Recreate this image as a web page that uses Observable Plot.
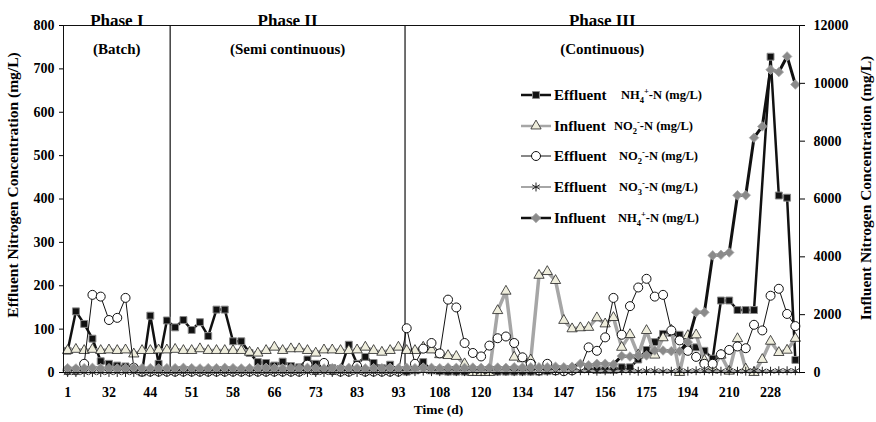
<!DOCTYPE html>
<html><head><meta charset="utf-8">
<script src="https://cdn.jsdelivr.net/npm/d3@7"></script>
<script src="https://cdn.jsdelivr.net/npm/@observablehq/plot@0.6"></script>
<style>
body{margin:0;background:#fff;}
#wrap{position:relative;width:876px;height:422px;font-family:"Liberation Serif","Times New Roman",serif;font-weight:bold;color:#000;}
.sw{position:absolute;}
.t1{position:absolute;font-size:15px;line-height:20px;white-space:nowrap;}
.t2{position:absolute;font-size:12.5px;line-height:20px;white-space:nowrap;}
.t2 sub,.t2 sup{font-size:8.5px;line-height:0;}
</style></head><body><div id="wrap"></div>
<script>
// Tick labels (sampling day) shown every 5th sample
const dayLabels = ["1","32","44","51","58","66","73","83","93","108","120","134","147","156","175","194","210","228"];
// Phase boundaries (in sample index units)
const phaseBounds = [12.4, 40.8];
const phaseNames = ["Phase I","Phase II","Phase III"];
const phaseSubs = ["(Batch)","(Semi continuous)","(Continuous)"];

// Effluent NH4+-N (mg/L) – left axis
const effNH4 = [50,141,112,78,26,20,16,14,10,0,
 131,20,120,104,121,98,116,84,145,145,
 72,72,45,24,22,16,25,15,12,30,
 20,8,10,8,64,20,36,22,10,18,
 5,2,5,24,5,3,2,2,2,1,
 1,2,2,2,2,2,2,2,3,3,
 4,5,8,8,6,6,6,12,12,30,
 52,70,89,91,87,58,58,50,32,166,
 166,144,144,144,null,728,408,403,29];
// Influent NO2--N (mg/L) – right axis
const infNO2 = [760,800,760,800,760,780,760,780,640,760,
 760,780,780,800,760,760,820,760,760,760,
 760,760,700,670,760,875,760,820,820,760,
 670,780,780,760,760,780,875,760,700,760,
 875,760,760,875,780,615,585,555,300,0,
 0,0,2140,2810,530,475,435,3360,3490,3180,
 1800,1510,1545,1560,1890,1680,1900,870,1310,600,
 1450,600,1200,1460,0,1275,1300,420,180,600,
 45,1170,120,0,450,1080,690,770,1180];
// Effluent NO2--N (mg/L) – left axis
const effNO2 = [5,5,20,179,175,121,126,172,11,2,
 2,2,2,2,2,2,2,2,2,2,
 2,2,2,2,2,2,2,2,2,18,
 5,22,5,2,2,15,2,2,2,2,
 2,102,20,55,68,44,168,150,68,45,
 37,62,79,83,68,35,20,5,20,5,
 3,5,10,58,50,81,172,87,153,196,
 216,175,179,97,74,50,36,20,20,42,
 52,60,56,110,97,177,193,135,107];
// Effluent NO3--N (mg/L) – left axis
const effNO3 = [0,0,0,0,0,0,0,0,0,0,
 0,0,0,0,0,0,0,0,0,0,
 0,0,0,0,0,0,0,0,0,0,
 0,0,0,0,0,0,0,0,0,0,
 0,2,2,3,2,2,3,2,2,3,
 2,2,3,3,2,2,3,2,3,3,
 3,3,4,4,3,4,3,4,4,3,
 4,4,3,3,4,3,4,4,3,3,
 4,3,3,4,3,3,4,4,4];
// Influent NH4+-N (mg/L) – right axis
const infNH4 = [150,140,150,160,150,150,140,150,160,150,
 150,140,150,150,160,150,140,150,150,160,
 150,140,150,150,160,150,140,150,150,160,
 150,140,150,150,160,150,140,150,150,160,
 150,160,150,170,160,150,170,160,160,170,
 160,170,170,160,180,170,180,180,180,200,
 180,200,300,250,300,300,280,570,553,588,
 588,761,761,738,738,1050,2080,2080,4050,4070,
 4150,6130,6130,8120,8510,10470,10390,10930,9960];

const leftTicks = [0,100,200,300,400,500,600,700,800];
const rightTicks = [0,2000,4000,6000,8000,10000,12000];
const RATIO = 15; // 12000 / 800

const N = effNH4.length;
const idx = d3.range(N);
const series = (arr, k = 1) => idx.filter(i => arr[i] != null).map(i => ({i, v: arr[i] * k}));
const sEffNH4 = series(effNH4);
const sInfNO2 = series(infNO2, 1 / RATIO);
const sEffNO2 = series(effNO2);
const sEffNO3 = series(effNO3);
const sInfNH4 = series(infNH4, 1 / RATIO);

const edges = [-0.5, ...phaseBounds, N - 0.5];
const phases = phaseNames.map((name, k) => ({name, sub: phaseSubs[k], cx: (edges[k] + edges[k + 1]) / 2}));

const sty = {
  tri: {symbol: "triangle", r: 3.8, fill: "#efeedd", stroke: "#222", strokeWidth: 0.8},
  sq: {symbol: "square", r: 3.9, fill: "#111", stroke: "#8a8a8a", strokeWidth: 1},
  cir: {symbol: "circle", r: 4.5, fill: "#fff", stroke: "#111", strokeWidth: 1},
  ast: {symbol: "asterisk", r: 4.2, fill: "none", stroke: "#222", strokeWidth: 1},
  dia: {symbol: "diamond2", r: 4.3, fill: "#8a8a8a", stroke: "#a8a8a8", strokeWidth: 0.8}
};

const chart = Plot.plot({
  width: 876, height: 422,
  marginLeft: 63, marginRight: 77, marginTop: 25, marginBottom: 50,
  style: {fontFamily: "'Liberation Serif', 'Times New Roman', serif", fontWeight: "bold", fontSize: "14px", color: "#000", background: "#fff"},
  x: {domain: [-0.5, N - 0.5], axis: null},
  y: {domain: [0, 800], axis: null},
  marks: [
    Plot.ruleX(phaseBounds, {stroke: "#333", strokeWidth: 1.4}),
    // Effluent NH4
    Plot.line(sEffNH4, {x: "i", y: "v", stroke: "#111", strokeWidth: 2.5}),
    Plot.dot(sEffNH4, {x: "i", y: "v", ...sty.sq}),
    // Influent NO2
    Plot.line(sInfNO2, {x: "i", y: "v", stroke: "#a6a6a6", strokeWidth: 3.5}),
    Plot.dot(sInfNO2, {x: "i", y: "v", ...sty.tri}),
    // Effluent NO2
    Plot.line(sEffNO2, {x: "i", y: "v", stroke: "#111", strokeWidth: 1}),
    Plot.dot(sEffNO2, {x: "i", y: "v", ...sty.cir}),
    // Effluent NO3
    Plot.line(sEffNO3, {x: "i", y: "v", stroke: "#a6a6a6", strokeWidth: 2}),
    Plot.dot(sEffNO3, {x: "i", y: "v", ...sty.ast}),
    // Influent NH4
    Plot.line(sInfNH4, {x: "i", y: "v", stroke: "#111", strokeWidth: 3}),
    Plot.dot(sInfNH4, {x: "i", y: "v", ...sty.dia}),
    Plot.frame({stroke: "#111", strokeWidth: 1}),
    Plot.axisY(leftTicks, {anchor: "left", tickSize: 4, tickPadding: 5, label: null, fontSize: 14}),
    Plot.axisY(rightTicks.map(v => v / RATIO), {anchor: "right", tickSize: 5, tickPadding: 9, label: null, fontSize: 14,
      tickFormat: d => String(Math.round(d * RATIO))}),
    Plot.axisX(d3.range(0, dayLabels.length * 5, 5), {anchor: "bottom", tickSize: 0, tickPadding: 15, label: null, fontSize: 14,
      tickFormat: d => dayLabels[Math.round(d / 5)]}),
    Plot.text(phases, {x: "cx", text: "name", frameAnchor: "top", dy: -12, fontSize: 17}),
    Plot.text(phases, {x: "cx", text: "sub", frameAnchor: "top", dy: 18, fontSize: 15}),
    Plot.text(["Effluent Nitrogen Concentration (mg/L)"], {frameAnchor: "left", textAnchor: "middle", rotate: -90, dx: -50, dy: -14, fontSize: 15.5}),
    Plot.text(["Influent Nitrogen Concentration (mg/L)"], {frameAnchor: "right", textAnchor: "middle", rotate: -90, dx: 67, dy: -11, fontSize: 15.5}),
    Plot.text(["Time (d)"], {frameAnchor: "bottom", dy: 41, dx: 7, fontSize: 13.5})
  ]
});
const wrap = document.getElementById("wrap");
wrap.appendChild(chart);

// Legend (inside plot area)
const legend = [
  {y: 95, lineColor: "#111", lw: 2.5, s: sty.sq, t1: "Effluent", t2: "NH<sub>4</sub><sup>+</sup>-N (mg/L)", x2: 621},
  {y: 126, lineColor: "#a6a6a6", lw: 2.5, s: sty.tri, t1: "Influent", t2: "NO<sub>2</sub><sup>-</sup>-N (mg/L)", x2: 614},
  {y: 156, lineColor: "#111", lw: 1, s: sty.cir, t1: "Effluent", t2: "NO<sub>2</sub><sup>-</sup>-N (mg/L)", x2: 619},
  {y: 187, lineColor: "#a6a6a6", lw: 2, s: sty.ast, t1: "Effluent", t2: "NO<sub>3</sub><sup>-</sup>-N (mg/L)", x2: 619},
  {y: 218, lineColor: "#111", lw: 2.5, s: sty.dia, t1: "Influent", t2: "NH<sub>4</sub><sup>+</sup>-N (mg/L)", x2: 618}
];
const symMap = {triangle: d3.symbolTriangle, square: d3.symbolSquare, circle: d3.symbolCircle, asterisk: d3.symbolAsterisk, diamond2: d3.symbolDiamond2};
for (const e of legend) {
  const svg = d3.select(wrap).append("svg").attr("class", "sw")
    .attr("width", 32).attr("height", 20)
    .style("left", "520px").style("top", (e.y - 10) + "px");
  svg.append("line").attr("x1", 1).attr("x2", 31).attr("y1", 10).attr("y2", 10)
    .attr("stroke", e.lineColor).attr("stroke-width", e.lw);
  svg.append("path").attr("transform", "translate(16,10)")
    .attr("d", d3.symbol(symMap[e.s.symbol], Math.PI * e.s.r * e.s.r)())
    .attr("fill", e.s.fill).attr("stroke", e.s.stroke).attr("stroke-width", e.s.strokeWidth);
  d3.select(wrap).append("div").attr("class", "t1").style("left", "554px").style("top", (e.y - 10) + "px").text(e.t1);
  d3.select(wrap).append("div").attr("class", "t2").style("left", e.x2 + "px").style("top", (e.y - 10) + "px").html(e.t2);
}
</script></body></html>
